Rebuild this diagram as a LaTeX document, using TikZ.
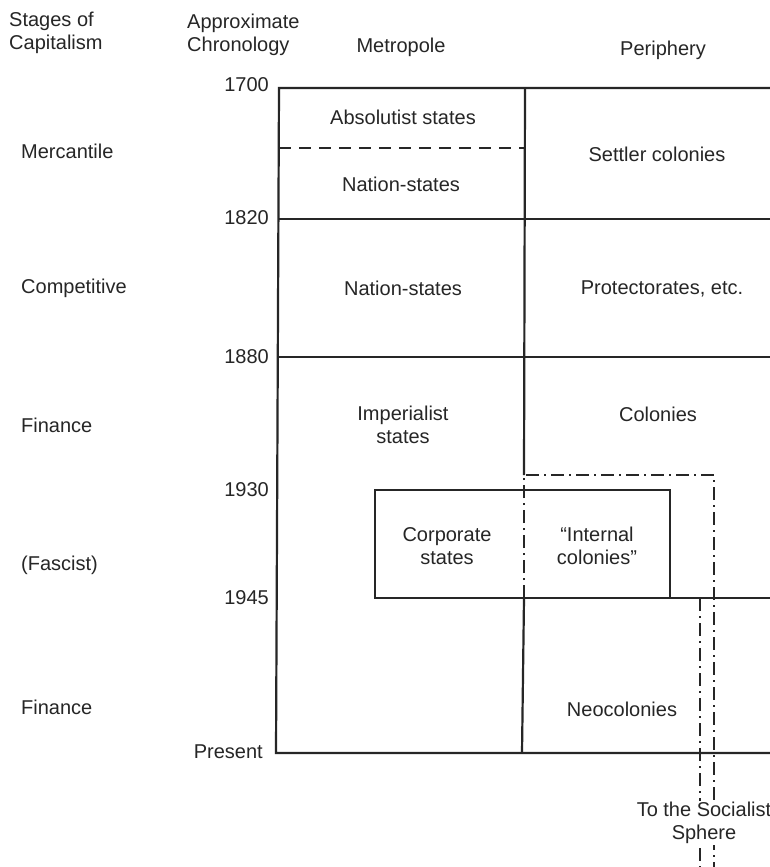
\documentclass[tikz,border=0pt]{standalone}
\usepackage{fontspec}
\setmainfont{Liberation Sans}
\begin{document}
\begin{tikzpicture}[x=1pt,y=-1pt,
  lbl/.style={font=\fontsize{20}{23.5}\selectfont, inner sep=0pt, align=center, text=black!85},
  lft/.style={lbl, anchor=west, align=left},
  yr/.style={lbl, anchor=east},
  frame/.style={line width=2.2pt, black!85},
  dashdot/.style={line width=2.1pt, black!85, dash pattern=on 13pt off 5pt on 2pt off 5pt},
  dashline/.style={line width=1.9pt, black!85, dash pattern=on 12pt off 8pt}]
\clip (0,0) rectangle (770,867);
\useasboundingbox (0,0) rectangle (770,867);
\fill[white] (0,0) rectangle (770,867);

% named corners
\coordinate (tl) at (279,88);
\coordinate (tr) at (775,88);
\coordinate (bl) at (276,753);
\coordinate (br) at (775,753);
\coordinate (mt) at (525,88);
\coordinate (mdd) at (524,475);
\coordinate (mdb) at (524,598);
\coordinate (mb) at (522,753);
\coordinate (l1820) at (278,219);
\coordinate (r1820) at (775,219);
\coordinate (l1880) at (278,357);
\coordinate (r1880) at (775,357);
\coordinate (dl) at (279,148);
\coordinate (dr) at (525,148);
\coordinate (ctl) at (375,490);
\coordinate (cbr) at (670,598);
\coordinate (e1945) at (775,598);
\coordinate (ddtr) at (714,475);
\coordinate (ddbot) at (714,875);
\coordinate (ddi) at (700,598);
\coordinate (ddibot) at (700,875);

% headers
\node[lft] (h1) at (9,33) {Stages of\\Capitalism};
\node[lft] (h2) at (187,35) {Approximate\\Chronology};
\node[lbl] (h3) at (401,47) {Metropole};
\node[lbl] (h4) at (663,50) {Periphery};

% years
\node[yr] (y1700) at (269,85) {1700};
\node[yr] (y1820) at (269,218) {1820};
\node[yr] (y1880) at (269,357) {1880};
\node[yr] (y1930) at (269,490) {1930};
\node[yr] (y1945) at (269,598) {1945};
\node[yr] (ypres) at (263,752) {Present};

% stages
\node[lft] (s1) at (21,151) {Mercantile};
\node[lft] (s2) at (21,288) {Competitive};
\node[lft] (s3) at (21,425) {Finance};
\node[lft] (s4) at (21,565) {(Fascist)};
\node[lft] (s5) at (21,707) {Finance};

% frame lines
\draw[frame] (tr) -- (tl) -- (bl) -- (br);
\draw[frame] (l1820) -- (r1820);
\draw[frame] (l1880) -- (r1880);
\draw[frame] (mt) -- (mdd);
\draw[frame] (mdb) -- (mb);
\draw[dashline] (dl) -- (dr);
\draw[frame] (ctl) rectangle (cbr);
\draw[frame] (cbr) -- (e1945);
\draw[dashdot] (mdb) -- (mdd) -- (ddtr) -- (ddbot);
\draw[dashdot] (ddi) -- (ddibot);

% cell texts
\node[lbl] (c1) at (403,117) {Absolutist states};
\node[lbl] (c2) at (401,184) {Nation-states};
\node[lbl] (c3) at (657,154) {Settler colonies};
\node[lbl] (c4) at (403,288) {Nation-states};
\node[lbl] (c5) at (662,289) {Protectorates, etc.};
\node[lbl] (c6) at (403,425) {Imperialist\\states};
\node[lbl] (c7) at (658,414) {Colonies};
\node[lbl] (c8) at (447,546) {Corporate\\states};
\node[lbl] (c9) at (597,546) {``Internal\\colonies''};
\node[lbl] (c10) at (622,709) {Neocolonies};
\node[lbl, fill=white, inner sep=1pt] (c11) at (704,823) {To the Socialist\\Sphere};
\end{tikzpicture}
\end{document}
